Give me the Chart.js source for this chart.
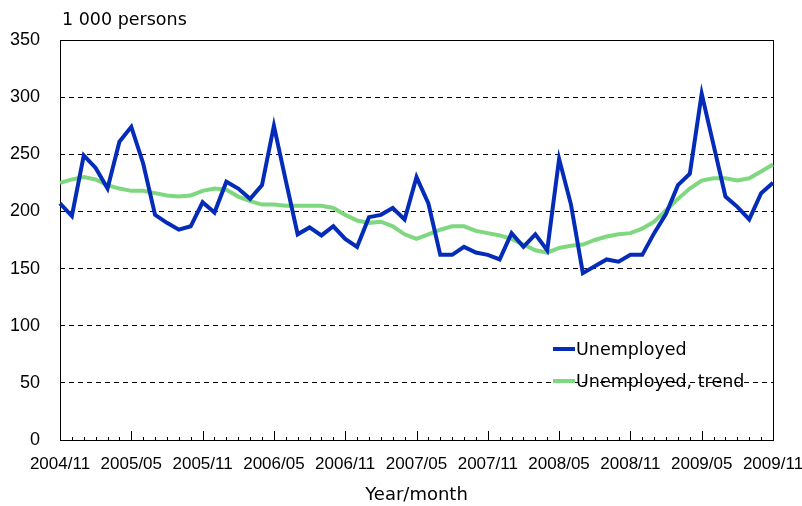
<!DOCTYPE html>
<html>
<head>
<meta charset="utf-8">
<script src="https://cdn.jsdelivr.net/npm/chart.js@4"></script>
<style>
  html, body { margin: 0; padding: 0; background: #fff; }
  #wrap { width: 802px; height: 506px; }
</style>
</head>
<body>
<div id="wrap"><canvas id="chart" width="802" height="506"></canvas></div>
<script>
const months = [
  "2004/11","2004/12","2005/01","2005/02","2005/03","2005/04","2005/05","2005/06","2005/07","2005/08","2005/09","2005/10",
  "2005/11","2005/12","2006/01","2006/02","2006/03","2006/04","2006/05","2006/06","2006/07","2006/08","2006/09","2006/10",
  "2006/11","2006/12","2007/01","2007/02","2007/03","2007/04","2007/05","2007/06","2007/07","2007/08","2007/09","2007/10",
  "2007/11","2007/12","2008/01","2008/02","2008/03","2008/04","2008/05","2008/06","2008/07","2008/08","2008/09","2008/10",
  "2008/11","2008/12","2009/01","2009/02","2009/03","2009/04","2009/05","2009/06","2009/07","2009/08","2009/09","2009/10",
  "2009/11"
];

const unemployed = [
  207, 196, 249, 238, 220, 261, 274, 242, 197, 190, 184, 187,
  208, 199, 226, 220, 211, 223, 275, 227, 180, 186, 179, 187,
  176, 169, 195, 197, 203, 193, 230, 207, 162, 162, 169, 164,
  162, 158, 181, 169, 180, 166, 246, 206, 146, 152, 158, 156,
  162, 162, 181, 198, 223, 233, 303, 258, 213, 204, 193, 216,
  225
];

const unemployedTrend = [
  225, 228, 230, 228, 223, 220, 218, 218, 216, 214, 213, 214,
  218, 220, 219, 213, 209, 206, 206, 205, 205, 205, 205, 203,
  197, 192, 190, 191, 187, 180, 176, 180, 184, 187, 187, 183,
  181, 179, 176, 171, 166, 164, 168, 170, 171, 175, 178, 180,
  181, 185, 191, 201, 211, 220, 227, 229, 229, 227, 229, 235,
  241
];

const yTicks = [0, 50, 100, 150, 200, 250, 300, 350];
const unitLabel = "1 000 persons";
const xTitle = "Year/month";

const BLUE = "#042cb8";
const GREEN = "#7fd77f";
const TEXT_FONT = "'DejaVu Sans', sans-serif";
const NUM_FONT = "'Liberation Sans', Arial, sans-serif";

// frame, inner ticks, unit label and in-plot legend
const decor = {
  id: "decor",
  beforeDatasetsDraw(chart) {
    const { ctx, chartArea: a, scales } = chart;
    ctx.save();
    ctx.strokeStyle = "#000";
    ctx.lineWidth = 1;
    ctx.strokeRect(a.left + 0.5, a.top + 0.5, a.right - a.left, a.bottom - a.top);
    ctx.beginPath();
    months.forEach((m, i) => {
      const x = Math.round(scales.x.getPixelForValue(i)) + 0.5;
      const len = i % 6 === 0 ? 9 : 3;
      ctx.moveTo(x, a.bottom);
      ctx.lineTo(x, a.bottom - len);
    });
    ctx.stroke();
    ctx.fillStyle = "#000";
    ctx.font = "17.5px " + TEXT_FONT;
    ctx.textBaseline = "middle";
    ctx.textAlign = "left";
    ctx.fillText(unitLabel, a.left + 2, 20);
    ctx.restore();
  },
  afterDatasetsDraw(chart) {
    const { ctx, chartArea: a } = chart;
    ctx.save();
    ctx.font = "17.5px " + TEXT_FONT;
    ctx.textBaseline = "middle";
    ctx.textAlign = "left";
    chart.data.datasets.forEach((ds, i) => {
      const y = 349 + i * 32;
      const x0 = a.right - 220;
      ctx.strokeStyle = ds.borderColor;
      ctx.lineWidth = 4;
      ctx.beginPath();
      ctx.moveTo(x0, y);
      ctx.lineTo(x0 + 22, y);
      ctx.stroke();
      ctx.fillStyle = "#000";
      ctx.fillText(ds.label, x0 + 23, y + 1);
    });
    ctx.restore();
  }
};

new Chart(document.getElementById("chart"), {
  type: "line",
  data: {
    labels: months,
    datasets: [
      {
        label: "Unemployed",
        data: unemployed,
        borderColor: BLUE,
        borderWidth: 4,
        pointRadius: 0,
        tension: 0,
        borderJoinStyle: "miter"
      },
      {
        label: "Unemployed, trend",
        data: unemployedTrend,
        borderColor: GREEN,
        borderWidth: 4,
        pointRadius: 0,
        tension: 0
      }
    ]
  },
  options: {
    responsive: false,
    animation: false,
    layout: { padding: { left: 0, right: 29, top: 40, bottom: 0 } },
    plugins: {
      legend: { display: false },
      tooltip: { enabled: false }
    },
    scales: {
      x: {
        offset: false,
        border: { display: false },
        grid: { display: false, drawTicks: false },
        ticks: {
          autoSkip: false,
          maxRotation: 0,
          padding: 14,
          color: "#000",
          font: { family: NUM_FONT, size: 17 },
          callback: (v, i) => (i % 6 === 0 ? months[i] : "")
        },
        title: {
          display: true,
          text: xTitle,
          color: "#000",
          font: { family: TEXT_FONT, size: 18 },
          padding: { top: 8, bottom: 0 }
        },
        afterFit: s => {
          s.height = 66;
          s.paddingLeft = 0;
          s.paddingRight = 0;
        }
      },
      y: {
        min: 0,
        max: 350,
        afterBuildTicks: s => { s.ticks = yTicks.map(v => ({ value: v })); },
        grid: {
          drawTicks: false,
          color: c => (c.tick.value === 0 || c.tick.value === 350 ? "rgba(0,0,0,0)" : "#000"),
          lineWidth: 1
        },
        border: { display: false, dash: [5, 4] },
        ticks: {
          padding: 20,
          color: "#000",
          font: { family: NUM_FONT, size: 18 }
        },
        afterFit: s => {
          s.width = 60;
          s.paddingTop = 0;
          s.paddingBottom = 0;
        }
      }
    }
  },
  plugins: [decor]
});
</script>
</body>
</html>
